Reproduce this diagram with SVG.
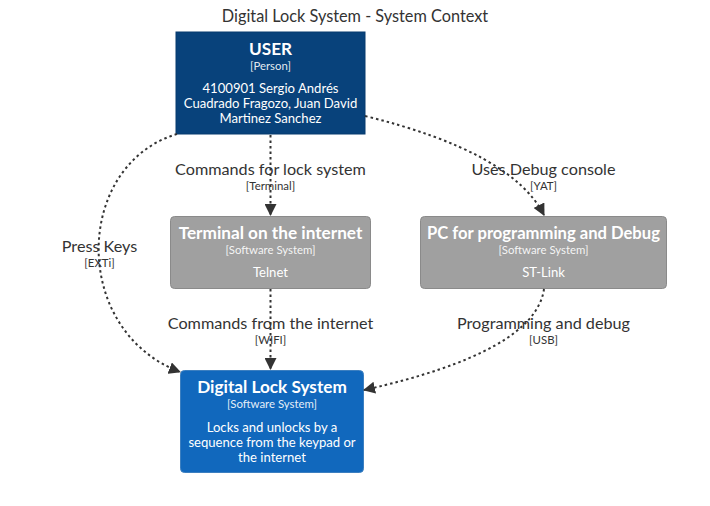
<svg xmlns="http://www.w3.org/2000/svg" width="710" height="506" viewBox="0 0 710 506">
<style>
text{font-family:Lato,"Open Sans","DejaVu Sans",sans-serif;text-anchor:middle}
.title{font-size:16.3px;fill:#333}
.nt{font-size:17.2px;font-weight:bold;fill:#fff}
.ty{font-size:11.4px;fill:#fff;fill-opacity:0.9}
.ds{font-size:13.1px;fill:#fff}
.el{font-size:16.2px;fill:#333}
.et{font-size:11.4px;fill:#333}
.edge{fill:none;stroke:#333;stroke-width:2;stroke-dasharray:2.5,3;marker-end:url(#arr)}
</style>
<defs>
<marker id="arr" viewBox="0 0 12 12" refX="11" refY="6" markerWidth="12" markerHeight="12" markerUnits="userSpaceOnUse" orient="auto">
<path d="M0,0 L12,6 L0,12 Z" fill="#333"/>
</marker>
</defs>
<rect width="710" height="506" fill="#fff"/>
<text class="title" x="355" y="22">Digital Lock System - System Context</text>

<g id="user">
<rect x="176" y="32" width="189" height="102" fill="#08427B" stroke="#073B6F"/>
<text class="nt" x="270.5" y="55">USER</text>
<text class="ty" x="270.5" y="70">[Person]</text>
<text class="ds" x="270.5" y="93">4100901 Sergio Andrés</text>
<text class="ds" x="270.5" y="108">Cuadrado Fragozo, Juan David</text>
<text class="ds" x="270.5" y="123">Martinez Sanchez</text>
</g>

<g id="terminal">
<rect x="170.5" y="216.5" width="200" height="72" rx="4" fill="#A0A0A0" stroke="#8A8A8A"/>
<text class="nt" x="270.5" y="239">Terminal on the internet</text>
<text class="ty" x="270.5" y="254">[Software System]</text>
<text class="ds" x="270.5" y="277">Telnet</text>
</g>

<g id="pc">
<rect x="420.5" y="216.5" width="246" height="72" rx="4" fill="#A0A0A0" stroke="#8A8A8A"/>
<text class="nt" x="543.5" y="239" style="font-size:16.6px">PC for programming and Debug</text>
<text class="ty" x="543.5" y="254">[Software System]</text>
<text class="ds" x="543.5" y="277">ST-Link</text>
</g>

<g id="lock">
<rect x="180.5" y="370.5" width="183" height="102" rx="4" fill="#1168BD" stroke="#3C7FC0"/>
<text class="nt" x="272" y="393">Digital Lock System</text>
<text class="ty" x="272" y="408">[Software System]</text>
<text class="ds" x="272" y="432">Locks and unlocks by a</text>
<text class="ds" x="272" y="447">sequence from the keypad or</text>
<text class="ds" x="272" y="462">the internet</text>
</g>

<g id="connectors">
<text class="el" x="270.5" y="175">Commands for lock system</text>
<text class="et" x="270.5" y="190">[Terminal]</text>
<text class="el" x="543.5" y="175">Uses Debug console</text>
<text class="et" x="543.5" y="190">[YAT]</text>
<text class="el" x="99.5" y="252">Press Keys</text>
<text class="et" x="99.5" y="267">[EXTi]</text>
<text class="el" x="270.5" y="329">Commands from the internet</text>
<text class="et" x="270.5" y="344">[WIFI]</text>
<text class="el" x="543.5" y="329">Programming and debug</text>
<text class="et" x="543.5" y="344">[USB]</text>

<path class="edge" d="M270.5,135 L270.5,215"/>
<path class="edge" d="M365,116 Q512,152 544,215"/>
<path class="edge" d="M177,134 C74,165 70,330 180,372"/>
<path class="edge" d="M270.5,289 L270.5,369"/>
<path class="edge" d="M544,289 Q535,352 364,390"/>
</g>
</svg>
